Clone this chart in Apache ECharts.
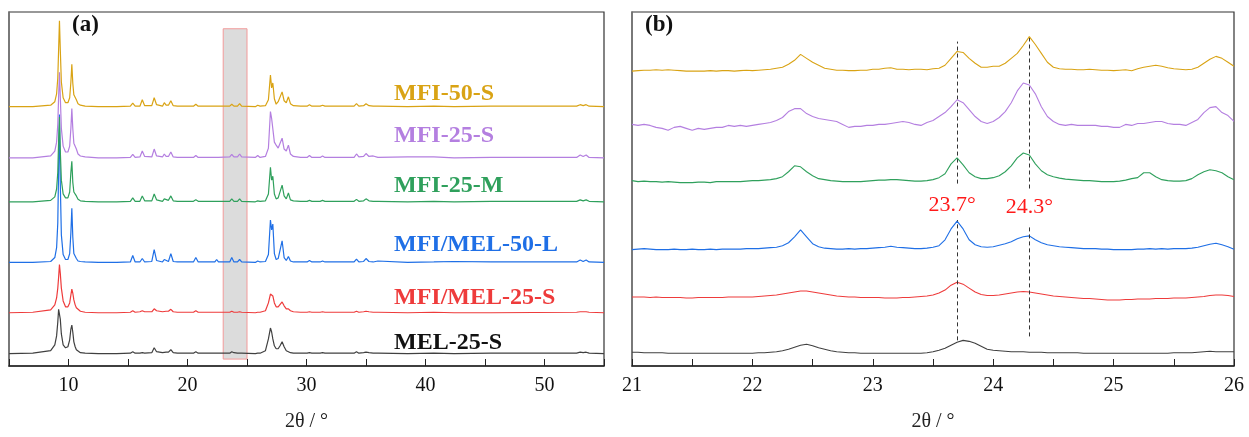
<!DOCTYPE html>
<html>
<head>
<meta charset="utf-8">
<title>XRD patterns</title>
<script src="https://cdn.jsdelivr.net/npm/echarts@6/dist/echarts.min.js"></script>
<style>
  html, body { margin: 0; padding: 0; background: #fff; }
  #chart { width: 1249px; height: 437px; }
</style>
</head>
<body>
<div id="chart"></div>
<script>
// sample names, drawn bottom to top so the upper curves sit on top
const sampleNames = ['MEL-25-S', 'MFI/MEL-25-S', 'MFI/MEL-50-L', 'MFI-25-M', 'MFI-25-S', 'MFI-50-S'];

// panel (a): 2θ positions, shared by all samples
const twoThetaA = [5, 7, 8.5, 8.85, 9.0, 9.1, 9.17, 9.24, 9.31, 9.4,
  9.55, 9.75, 9.95, 10.1, 10.2, 10.28, 10.36, 10.45, 10.56, 10.66,
  10.8, 11.0, 11.4, 12.5, 13.75, 13.9, 14.05, 15.2, 15.4, 15.6,
  16.0, 16.2, 16.4, 17.0, 17.2, 17.4, 17.9, 18.05, 18.2, 18.4,
  18.6, 18.8, 19.15, 19.3, 19.45, 20.5, 20.7, 20.9, 22.3, 22.45,
  22.6, 23.55, 23.72, 23.9, 24.2, 24.38, 24.55, 25.7, 25.9, 26.1,
  26.55, 26.8, 26.97, 27.07, 27.17, 27.3, 27.45, 27.62, 27.78, 27.95,
  28.12, 28.3, 28.48, 28.65, 28.9, 29.5, 30.05, 30.25, 30.45, 31.15,
  31.35, 31.55, 34.0, 34.2, 34.4, 34.8, 35.0, 35.25, 35.6, 36.0,
  38.5, 40.7, 42.4, 45.5, 52.7, 53.0, 53.25, 53.5, 53.75, 55];

// intensities (a.u.) above each curve's own baseline
const mel25S_A = [0, 0.5, 3, 9, 18, 32, 45, 47, 35, 20,
  9, 6, 7, 14, 25, 29, 22, 12, 7, 4,
  2, 1, 0.5, 0, 0, 0.5, 0, 0.5, 2, 0.5,
  0.5, 1, 0.5, 1, 6, 2, 1, 1.5, 1.5, 1.5,
  4, 1, 0.5, 0.5, 0.5, 0.5, 2, 0.5, 0.5, 2,
  0.5, 0.5, 2, 1, 0.5, 0.5, 0.5, 0, 0.5, 0.5,
  3, 15, 26, 22, 15, 8, 5, 5, 8, 12,
  7, 3, 2, 1, 0.5, 0.5, 0.5, 1, 0.5, 0.5,
  1, 0.5, 0.5, 2, 0.5, 1, 1.5, 1, 0.5, 0.5,
  0, 0.5, 0, 0.5, 0.5, 1.5, 1, 1.5, 0.5, 0];
const mfiMel25S_A = [0, 0.5, 3, 8, 15, 25, 36, 49, 40, 25,
  12, 6, 6, 10, 18, 24, 20, 13, 8, 5,
  3, 1.5, 0.5, 0, 0, 0.5, 0, 0.5, 2, 0.5,
  1, 2, 1, 1, 4, 2, 1, 1.5, 1.5, 1.5,
  3.5, 1, 0.5, 0.5, 0.5, 0.5, 2, 0.5, 0.5, 1,
  0.5, 0.5, 1.5, 0.5, 0.5, 1, 0.5, 0, 0.5, 0.5,
  2, 10, 19, 20, 17, 10, 6, 6, 8, 11,
  7, 4, 4, 2, 1, 0.5, 0.5, 1, 0.5, 0.5,
  1, 0.5, 0.5, 1.5, 0.5, 1, 1.5, 1, 0.5, 0.5,
  0, 0.5, 0, 0, 0.5, 1, 1, 1, 0.5, 0];
const mfiMel50L_A = [0, 0, 1, 5, 15, 40, 95, 150, 80, 28,
  8, 3, 3, 9, 30, 55, 26, 9, 8, 4,
  1.5, 1, 0.5, 0, 0, 1.5, 0, 0.5, 7, 0.5,
  0.5, 4, 0.5, 1, 13, 2, 0.5, 3, 1, 1,
  9, 1, 0.5, 1, 0.5, 0.5, 5, 0.5, 0.5, 3,
  0.5, 0.5, 5, 0.5, 0.5, 3, 0.5, 0, 1.5, 0.5,
  1, 8, 43, 33, 39, 9, 3, 4, 3, 22,
  5, 2, 6, 1.5, 0.5, 0.5, 0.5, 2, 0.5, 0.5,
  1.5, 0.5, 0.5, 3.5, 0.5, 1, 4, 1, 0.5, 1.5,
  0, 0.5, 1, 0.5, 0.5, 2.5, 1, 2.5, 0.5, 0];
const mfi25M_A = [0, 0, 1.5, 5, 13, 30, 62, 86, 52, 22,
  8, 4, 4, 10, 30, 41, 20, 10, 12, 6,
  2.5, 1, 0.5, 0, 0, 1, 0, 0.5, 4, 0.5,
  0.5, 6, 1, 1, 8, 2, 0.5, 3, 1, 1.5,
  6, 1, 0.5, 1, 0.5, 0.5, 2, 0.5, 0.5, 2,
  0.5, 0.5, 3, 0.5, 0.5, 3, 0.5, 0, 1, 0.5,
  1, 8, 35, 22, 26, 8, 3, 4, 3, 17,
  6, 3, 9, 2, 1, 0.5, 0.5, 1.5, 0.5, 0.5,
  1.5, 0.5, 0.5, 2.5, 0.5, 1, 3, 1, 0.5, 0.5,
  0, 0.5, 0, 0.5, 0.5, 2, 1, 2, 0.5, 0];
const mfi25S_A = [0, 0, 2, 7, 16, 34, 62, 87, 62, 30,
  12, 6, 6, 12, 30, 50, 30, 15, 17, 9,
  4, 2, 1, 0, 0, 1.5, 0, 0.5, 3.5, 0.5,
  1, 7, 1.5, 1, 9, 2, 1, 4, 1.5, 1.5,
  6, 1, 0.5, 1.5, 0.5, 0.5, 2.5, 0.5, 0.5, 2.5,
  0.5, 1, 3.5, 1, 1, 4, 1, 0.5, 2.5, 0.5,
  1.5, 10, 47, 40, 38, 16, 13, 10, 8, 20,
  9, 7, 13, 4, 1.5, 0.5, 0.5, 2.5, 0.5, 0.5,
  2, 0.5, 0.5, 4, 1, 1.5, 4.5, 1.5, 2, 0.5,
  1, 1, 0, 0.5, 0.5, 3, 1.5, 3, 0.5, 0];
const mfi50S_A = [0, 0, 1.5, 5, 13, 29, 58, 87, 58, 25,
  9, 4, 4, 9, 25, 43, 24, 12, 13, 7,
  3, 1.5, 0.5, 0, 0, 1.5, 0, 0.5, 3.5, 0.5,
  0.5, 7, 1, 1, 9, 2, 0.5, 4, 1.5, 1.5,
  6, 1, 0.5, 1.5, 0.5, 0.5, 2.5, 0.5, 0.5, 2,
  0.5, 0.5, 2.5, 0.5, 0.5, 3, 0.5, 0, 1.5, 0.5,
  1, 7, 32, 19, 24, 8, 2.5, 5, 3, 15,
  6, 4, 10, 3, 1, 0.5, 0.5, 2, 0.5, 0.5,
  1.5, 0.5, 0.5, 3, 0.5, 1, 3, 1, 0.5, 0.5,
  0, 0.5, 0, 0.5, 0.5, 2, 1, 2, 0.5, 0];

// panel (b): 2θ positions
const twoThetaB = [21.00, 21.05, 21.10, 21.15, 21.20, 21.25, 21.30, 21.35, 21.40, 21.45,
  21.50, 21.55, 21.60, 21.65, 21.70, 21.75, 21.80, 21.85, 21.90, 21.95,
  22.00, 22.05, 22.10, 22.15, 22.20, 22.25, 22.30, 22.35, 22.40, 22.45,
  22.50, 22.55, 22.60, 22.65, 22.70, 22.75, 22.80, 22.85, 22.90, 22.95,
  23.00, 23.05, 23.10, 23.15, 23.20, 23.25, 23.30, 23.35, 23.40, 23.45,
  23.50, 23.55, 23.60, 23.65, 23.70, 23.75, 23.80, 23.85, 23.90, 23.95,
  24.00, 24.05, 24.10, 24.15, 24.20, 24.25, 24.30, 24.35, 24.40, 24.45,
  24.50, 24.55, 24.60, 24.65, 24.70, 24.75, 24.80, 24.85, 24.90, 24.95,
  25.00, 25.05, 25.10, 25.15, 25.20, 25.25, 25.30, 25.35, 25.40, 25.45,
  25.50, 25.55, 25.60, 25.65, 25.70, 25.75, 25.80, 25.85, 25.90, 25.95,
  26.00];

const mel25S_B = [1, 1, 0.5, 0.5, 0.5, 0.5, 0, 0, 0, 0,
  0, 0, 0, 0, 0, 0, 0, 0, 0, 0,
  0, 0.5, 0.5, 1, 1.5, 2.5, 4, 6, 8, 9,
  7.5, 5.5, 4, 2.5, 1.5, 1, 0.5, 0.5, 0, 0,
  0, 0, 0, 0, 0, 0, 0, 0, 0, 0.5,
  1.5, 3, 5, 8, 11, 13, 12, 10, 7, 4,
  3, 2.5, 2, 1.5, 1.5, 1.5, 1, 1, 1, 0.5,
  0.5, 0.5, 0.5, 0.5, 0.5, 0, 0, 0, 0, 0,
  0, 0, 0, 0, 0, 0, 0, 0, 0, 0,
  0.5, 0.5, 0.5, 0.5, 1, 1.5, 2, 1.5, 1.5, 1.5,
  1.5];
const mfiMel25S_B = [0, 0, 0, -0.5, 0, -0.5, -0.5, -0.5, -0.5, -1,
  -1, -0.5, -0.5, -0.5, -0.5, -0.5, 0, 0, 0, 0,
  0, 0.5, 1, 1.5, 2, 3, 4, 5, 6, 6,
  5, 4, 3, 2, 1, 0.5, 0, 0, -0.5, -0.5,
  -0.5, -0.5, -1, -1, -1, -0.5, -0.5, 0, 0.5, 1,
  2, 4, 7, 12, 15, 13, 9, 5, 2.5, 1.5,
  1.5, 2, 3, 4, 5, 5.5, 5, 4, 3, 2,
  1, 0.5, 0, -0.5, -1, -1.5, -1.5, -2, -2.5, -3,
  -3, -3, -2.5, -2.5, -2, -2, -2, -1.5, -1.5, -1.5,
  -1, -1, -1, -0.5, 0, 0.5, 1.5, 2, 2, 1.5,
  0.5];
const mfiMel50L_B = [0, 0.5, 1, 0.5, 0, 0, 0, 0.5, 0, 0,
  0.5, 0, 0, 0.5, 0, 0.5, 0.5, 0.5, 0.5, 1,
  1, 1, 1.5, 2, 2.5, 4, 7, 13, 20, 13,
  6, 3, 1.5, 1, 0.5, 0.5, 1, 0.5, 1, 1,
  1.5, 2, 2.5, 3.5, 2.5, 2, 1.5, 1, 1, 1.5,
  2.5, 4, 10, 21, 29, 21, 10, 5, 3, 2.5,
  3, 4.5, 6, 8, 11, 13, 14, 10, 7, 5,
  4, 3, 2.5, 2, 1.5, 1, 1, 1, 0.5, 0.5,
  0, 0, 0, 0, 0.5, 0.5, 1, 0.5, 1, 0.5,
  1, 1, 1, 1.5, 2.5, 4, 5.5, 6.5, 5, 3,
  0.5];
const mfi25M_B = [1, 0, 0.5, 0, 0, -0.5, 0, -0.5, -1, -1,
  -1, -0.5, -0.5, -1, 0, 0, 0, 0, 0, 0.5,
  1, 1, 1.5, 2, 3, 5, 10, 16, 15, 10,
  6, 3, 2, 1, 0.5, 0, 0, 0, 0, 0.5,
  1, 1.5, 1.5, 2, 2, 1.5, 1, 0.5, 0.5, 1,
  2, 4, 8, 18, 24, 17, 9, 5, 3, 3,
  4, 6, 10, 16, 24, 29, 27, 18, 11, 7,
  5, 3.5, 2.5, 2, 1.5, 1, 1, 0.5, 0, 0,
  0, 0.5, 1.5, 3, 4, 9, 9, 5, 2, 1,
  0.5, 0.5, 1, 3, 7, 10, 12, 11, 9, 5,
  2];
const mfi25S_B = [2, 1, 2, 1, -1, -2, -4, -1, 0, -2,
  -4, -2, -3, -2, -1, -1, 1, 0, 1, 0,
  1, 2, 3, 4, 6, 9, 15, 18, 18, 13,
  10, 8, 7, 6, 5, 2, -1, 0, 0, 1,
  1, 2, 2, 3, 4, 5, 4, 2, 1, 4,
  6, 10, 14, 20, 27, 24, 17, 10, 5, 3,
  5, 9, 15, 24, 36, 44, 42, 33, 20, 10,
  5, 2, 1, 2, 1, 1, 1, 1, 0, 0,
  -1, -1, 2, 1, 3, 3, 4, 5, 5, 3,
  2, 2, 1, 4, 7, 14, 19, 20, 14, 11,
  5];
const mfi50S_B = [0, 0.5, 1, 1, 1.5, 1, 1.5, 1, 0.5, 0,
  0, 0, 0, 0.5, 0, 0.5, 0.5, 0, 0.5, 1,
  0.5, 1, 1.5, 2, 3, 4, 7, 11, 17, 13,
  9, 6, 3, 2, 1, 1, 0.5, 0.5, 1, 1,
  2, 2, 3, 3.5, 2, 2, 1.5, 2, 2, 1.5,
  2.5, 3, 6, 13, 20, 19, 13, 8, 4, 4,
  5, 5, 8, 13, 18, 26, 35, 27, 18, 9,
  4, 2.5, 2, 2, 1.5, 1.5, 2, 1.5, 1, 1,
  0.5, 1, 1.5, 0.5, 2.5, 4, 5, 6, 5, 3.5,
  2.5, 2, 1.5, 2, 4, 8, 12, 15, 13, 9,
  5];

// reference peak positions marked in panel (b)
const refPeaks = [23.7, 24.3];
const refLabels = ['23.7°', '24.3°'];

const intensA = [mel25S_A, mfiMel25S_A, mfiMel50L_A, mfi25M_A, mfi25S_A, mfi50S_A];
const intensB = [mel25S_B, mfiMel25S_B, mfiMel50L_B, mfi25M_B, mfi25S_B, mfi50S_B];

// layout: vertical stacking of the curves, label placement
const offsetsA = [12.5, 54, 105, 166.5, 211, 263];
const offsetsB = [13, 70, 118, 187, 243, 299];
const colors = ['#404040', '#ee3b3b', '#1f6fe6', '#2fa05c', '#b47fe0', '#d9a314'];
const labelY = [344, 299, 246, 187, 137, 95];
// vertical extent of the dashed guides: [lower from, lower to, upper from, upper to]
const guideSpans = [[26, 148, 185, 329], [30, 143, 180, 334]];
const guideLabelDist = [4, 7];
const guideLabelShift = [-5, 0];

const serif = "'Liberation Serif', 'Times New Roman', serif";
const chart = echarts.init(document.getElementById('chart'));

function axisX(idx, min, max, interval, labelStep) {
  return {
    type: 'value', gridIndex: idx, min: min, max: max, interval: interval,
    name: '2θ / °', nameLocation: 'middle', nameGap: 46,
    nameTextStyle: { fontFamily: serif, fontSize: 20, color: '#222' },
    axisLine: { show: true, lineStyle: { color: '#222', width: 1.5 } },
    axisTick: { show: true, inside: true, length: 7, lineStyle: { color: '#222', width: 1 } },
    axisLabel: {
      margin: 10, fontFamily: serif, fontSize: 20, color: '#111',
      formatter: v => (Math.abs(v / labelStep - Math.round(v / labelStep)) < 1e-6 ? String(Math.round(v)) : '')
    },
    splitLine: { show: false }
  };
}

function axisY(idx) {
  return {
    type: 'value', gridIndex: idx, min: 0, max: 359,
    axisLine: { show: true, lineStyle: { color: '#777', width: 1.6 } },
    axisTick: { show: false }, axisLabel: { show: false }, splitLine: { show: false }
  };
}

const series = [];
sampleNames.forEach((name, i) => {
  series.push({
    name: name + ' (a)', type: 'line', xAxisIndex: 0, yAxisIndex: 0,
    data: twoThetaA.map((x, j) => [x, offsetsA[i] + intensA[i][j]]),
    showSymbol: false, lineStyle: { color: colors[i], width: 1.2 }, z: 2 + i
  });
  series.push({
    name: name + ' (b)', type: 'line', xAxisIndex: 1, yAxisIndex: 1,
    data: twoThetaB.map((x, j) => [x, offsetsB[i] + intensB[i][j]]),
    showSymbol: false, lineStyle: { color: colors[i], width: 1.1 }, z: 2 + i
  });
});

// shaded 23–25° window in panel (a)
series[series.length - 2].markArea = {
  silent: true,
  itemStyle: { color: 'rgba(196,196,196,0.6)', borderColor: '#f29a9a', borderWidth: 1 },
  data: [[{ coord: [23, 7] }, { coord: [25, 342] }]]
};

// dashed guides in panel (b)
const guideLines = [];
refPeaks.forEach((p, k) => {
  const s = guideSpans[k];
  guideLines.push([
    { coord: [p, s[0]], label: { show: true, position: 'end', formatter: refLabels[k], distance: guideLabelDist[k],
      offset: [guideLabelShift[k], 0], color: '#ff1a1a', fontFamily: serif, fontSize: 22 } },
    { coord: [p, s[1]] }
  ]);
  guideLines.push([{ coord: [p, s[2]], label: { show: false } }, { coord: [p, s[3]] }]);
});
series[1].markLine = {
  silent: true, symbol: ['none', 'none'], animation: false,
  lineStyle: { color: '#333', width: 1, type: [4, 3] },
  data: guideLines
};

const graphics = [
  { type: 'text', left: 72, top: 14, style: { text: '(a)', font: 'bold 23px ' + serif, fill: '#111' } },
  { type: 'text', left: 645, top: 14, style: { text: '(b)', font: 'bold 23px ' + serif, fill: '#111' } }
];
sampleNames.forEach((name, i) => {
  graphics.push({
    type: 'text', left: 394, top: labelY[i] - 13,
    style: { text: name, font: 'bold 24px ' + serif, fill: i === 0 ? '#111' : colors[i] }
  });
});

chart.setOption({
  animation: false,
  backgroundColor: '#fff',
  grid: [
    { left: 9, width: 595, top: 12, height: 359, show: true, borderColor: '#333', borderWidth: 1.2 },
    { left: 632, width: 602, top: 12, height: 359, show: true, borderColor: '#333', borderWidth: 1.2 }
  ],
  xAxis: [axisX(0, 5, 55, 5, 10), axisX(1, 21, 26, 0.5, 1)],
  yAxis: [axisY(0), axisY(1)],
  series: series,
  graphic: graphics
});
</script>
</body>
</html>
